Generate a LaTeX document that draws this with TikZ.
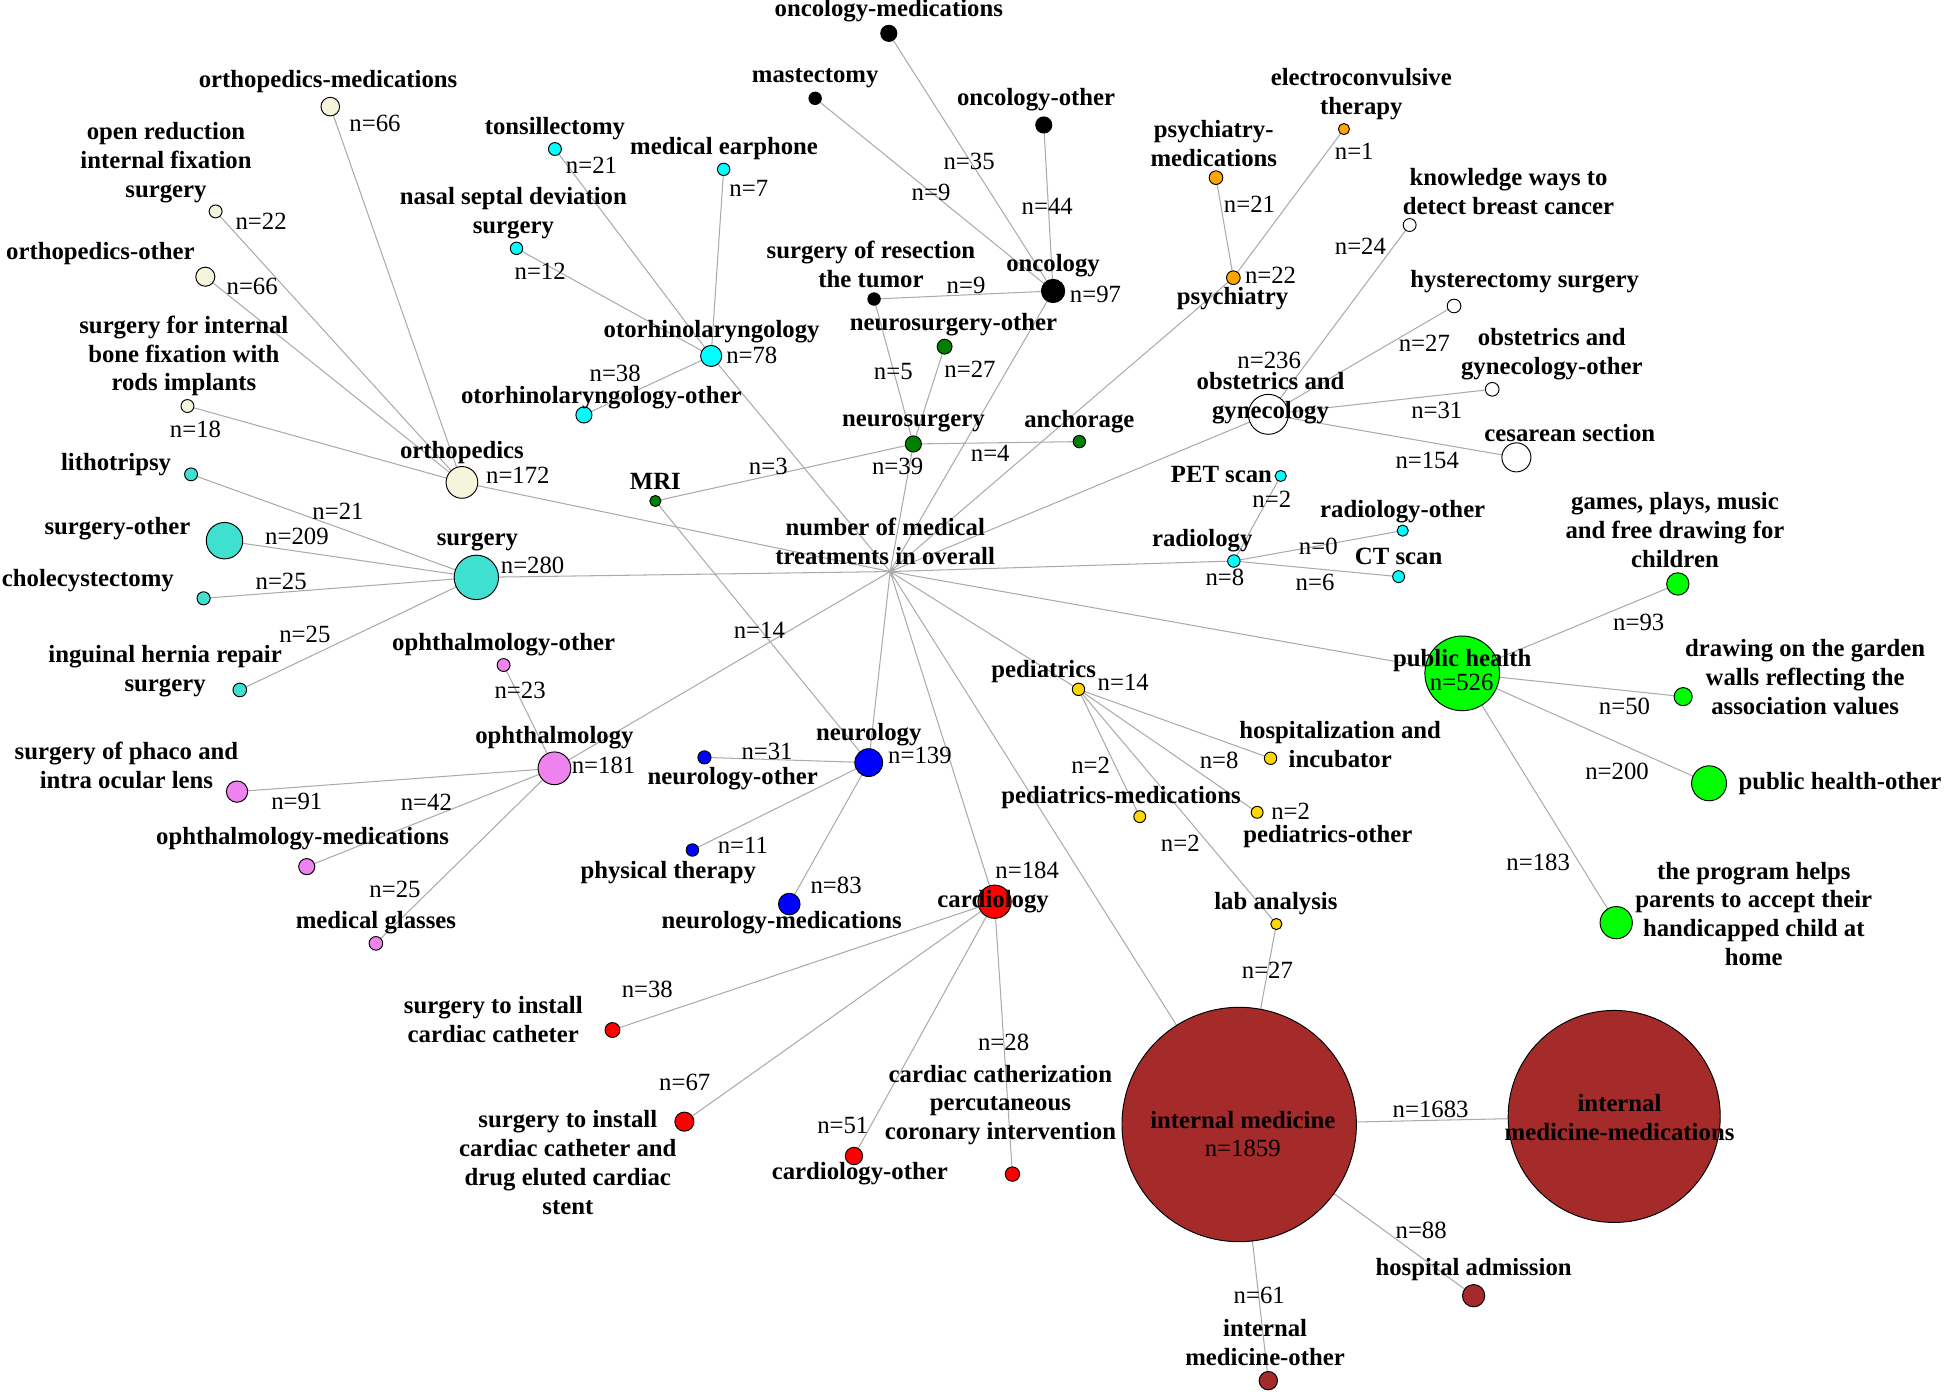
\documentclass[tikz,border=0pt]{standalone}
\usepackage{fontspec}
\setmainfont{Liberation Serif}
\usetikzlibrary{positioning}
\definecolor{beigeC}{HTML}{F5F5DC}
\definecolor{turqC}{HTML}{40E0D0}
\definecolor{cyanC}{HTML}{00FFFF}
\definecolor{greenD}{HTML}{008000}
\definecolor{orangeC}{HTML}{FFA500}
\definecolor{violetC}{HTML}{EE82EE}
\definecolor{blueC}{HTML}{0000FF}
\definecolor{redC}{HTML}{FF0000}
\definecolor{goldC}{HTML}{FFD700}
\definecolor{limeC}{HTML}{00FF00}
\definecolor{brownC}{HTML}{A52A2A}
\definecolor{edgegray}{HTML}{ABABAB}
\pgfdeclarelayer{bg}
\pgfsetlayers{bg,main}
\tikzset{
  bub/.style={circle, draw=black, line width=0.55pt,
    inner sep=0pt, outer sep=0pt, minimum size=#1*0.05cm},
  orthoN/.style={bub=#1, fill=beigeC},
  surgN/.style={bub=#1, fill=turqC},
  otoN/.style={bub=#1, fill=cyanC},
  oncN/.style={bub=#1, fill=black},
  nsurgN/.style={bub=#1, fill=greenD},
  psyN/.style={bub=#1, fill=orangeC},
  obN/.style={bub=#1, fill=white},
  radN/.style={bub=#1, fill=cyanC},
  pubN/.style={bub=#1, fill=limeC},
  pedN/.style={bub=#1, fill=goldC},
  ophN/.style={bub=#1, fill=violetC},
  neuN/.style={bub=#1, fill=blueC},
  carN/.style={bub=#1, fill=redC},
  intN/.style={bub=#1, fill=brownC},
  link/.style={draw=edgegray, line width=0.6pt},
  lbl/.style={font=\bfseries\fontsize{14.2}{16.6}\selectfont,
    align=center, inner sep=0pt},
  cnt/.style={font=\fontsize{14.2}{16.6}\selectfont, inner sep=0pt},
}

\begin{document}
\begin{tikzpicture}[x=0.025cm, y=-0.025cm]
  \useasboundingbox (0,0) rectangle (1568,1124);
  \coordinate (hub) at (718,461);
  % orthopedics
  \node[orthoN=12.8] (ortho) at (372.6,389.1) {};
  \node[orthoN=7.5] (orthoMed) at (266.4,86) {};
  \node[orthoN=5.2] (orif) at (173.9,170.5) {};
  \node[orthoN=7.7] (orthoOth) at (165.6,223.2) {};
  \node[orthoN=5.2] (rods) at (151.2,327.5) {};
  % surgery
  \node[surgN=17.9] (surg) at (384.2,465.7) {};
  \node[surgN=5.2] (litho) at (154.1,382.6) {};
  \node[surgN=14.7] (surgOth) at (181.1,436.1) {};
  \node[surgN=5.3] (chole) at (164.2,482.6) {};
  \node[surgN=5.5] (ingu) at (193.4,556.5) {};
  % otorhinolaryngology
  \node[otoN=8.5] (oto) at (573.6,287.1) {};
  \node[otoN=5.2] (tonsil) at (447.6,120.2) {};
  \node[otoN=5] (earph) at (583.7,136.6) {};
  \node[otoN=5] (nasal) at (416.6,200.3) {};
  \node[otoN=6.5] (otoOth) at (471,334.7) {};
  % oncology
  \node[oncN=9.4] (onc) at (849.4,234.7) {};
  \node[oncN=6.5] (oncMed) at (716.9,26.9) {};
  \node[oncN=5] (mast) at (657.5,79.3) {};
  \node[oncN=6.5] (oncOth) at (841.9,100.8) {};
  \node[oncN=5] (resect) at (705,241.2) {};
  % neurosurgery
  \node[nsurgN=6.5] (nsurg) at (736.7,358.1) {};
  \node[nsurgN=6] (nsurgOth) at (761.9,279.6) {};
  \node[nsurgN=5] (anch) at (870.6,356.2) {};
  \node[nsurgN=4.5] (mri) at (528.6,404.1) {};
  % psychiatry
  \node[psyN=5.5] (psy) at (994.8,224) {};
  \node[psyN=5.5] (psyMed) at (980.8,143.3) {};
  \node[psyN=4.5] (ect) at (1084,104.1) {};
  % obstetrics and gynecology
  \node[obN=16.1] (obgyn) at (1023,334.2) {};
  \node[obN=5.2] (breast) at (1137,181.5) {};
  \node[obN=5.5] (hyst) at (1172.8,246.8) {};
  \node[obN=5.5] (obOth) at (1203.6,314) {};
  \node[obN=11.7] (cesar) at (1223.1,368.9) {};
  % radiology
  \node[radN=5] (rad) at (995.2,452.5) {};
  \node[radN=4.5] (pet) at (1033,383.9) {};
  \node[radN=4.5] (radOth) at (1131.4,428) {};
  \node[radN=4.8] (ct) at (1128.1,465.1) {};
  % public health
  \node[pubN=30.1] (pub) at (1179.4,543.1) {};
  \node[pubN=9] (games) at (1353.3,471) {};
  \node[pubN=7.3] (garden) at (1357.6,561.9) {};
  \node[pubN=14.1] (pubOth) at (1378.5,631.8) {};
  \node[pubN=13] (prog) at (1303.6,744.2) {};
  % pediatrics
  \node[pedN=5] (ped) at (869.9,556) {};
  \node[pedN=5] (incub) at (1024.8,611.6) {};
  \node[pedN=4.8] (pedMed) at (919.3,658.7) {};
  \node[pedN=4.8] (pedOth) at (1014,655.2) {};
  \node[pedN=4.5] (lab) at (1029.5,745.3) {};
  % ophthalmology
  \node[ophN=13.2] (oph) at (447.2,619.7) {};
  \node[ophN=5.2] (ophOth) at (406.2,536.4) {};
  \node[ophN=8.6] (phaco) at (191.2,638.5) {};
  \node[ophN=6.5] (ophMed) at (247.4,699) {};
  \node[ophN=5.5] (glass) at (303.2,760.9) {};
  % neurology
  \node[neuN=11.2] (neu) at (700.7,615.1) {};
  \node[neuN=5.3] (neuOth) at (568.2,610.9) {};
  \node[neuN=5] (phys) at (558.5,685.6) {};
  \node[neuN=8.7] (neuMed) at (636.6,729.2) {};
  % cardiology
  \node[carN=13.4] (car) at (802.2,727.3) {};
  \node[carN=6] (cath) at (494,830.8) {};
  \node[carN=7.7] (stent) at (552,904.7) {};
  \node[carN=7] (carOth) at (688.8,932.4) {};
  \node[carN=5.8] (pci) at (816.6,947) {};
  % internal medicine
  \node[intN=94.5] (intm) at (999.5,907) {};
  \node[intN=85.5] (intMed) at (1302,900.5) {};
  \node[intN=9] (hosp) at (1188.6,1045.1) {};
  \node[intN=7.4] (intOth) at (1023,1113.6) {};

  % connectors, behind everything
  \begin{pgfonlayer}{bg}
    \draw[link] (hub) -- (ortho) (hub) -- (surg) (hub) -- (oto) (hub) -- (onc)
      (hub) -- (nsurg) (hub) -- (psy) (hub) -- (obgyn) (hub) -- (rad)
      (hub) -- (pub) (hub) -- (ped) (hub) -- (intm) (hub) -- (car)
      (hub) -- (neu) (hub) -- (oph);
    \draw[link] (ortho) -- (orthoMed) (ortho) -- (orif) (ortho) -- (orthoOth) (ortho) -- (rods);
    \draw[link] (surg) -- (litho) (surg) -- (surgOth) (surg) -- (chole) (surg) -- (ingu);
    \draw[link] (oto) -- (tonsil) (oto) -- (earph) (oto) -- (nasal) (oto) -- (otoOth);
    \draw[link] (onc) -- (oncMed) (onc) -- (mast) (onc) -- (oncOth) (onc) -- (resect);
    \draw[link] (nsurg) -- (resect) (nsurg) -- (nsurgOth) (nsurg) -- (anch) (nsurg) -- (mri)
      (mri) -- (neu);
    \draw[link] (psy) -- (psyMed) (psy) -- (ect);
    \draw[link] (obgyn) -- (breast) (obgyn) -- (hyst) (obgyn) -- (obOth) (obgyn) -- (cesar);
    \draw[link] (rad) -- (pet) (rad) -- (radOth) (rad) -- (ct);
    \draw[link] (pub) -- (games) (pub) -- (garden) (pub) -- (pubOth) (pub) -- (prog);
    \draw[link] (ped) -- (incub) (ped) -- (pedMed) (ped) -- (pedOth) (ped) -- (lab)
      (lab) -- (intm);
    \draw[link] (oph) -- (ophOth) (oph) -- (phaco) (oph) -- (ophMed) (oph) -- (glass);
    \draw[link] (neu) -- (neuOth) (neu) -- (phys) (neu) -- (neuMed);
    \draw[link] (car) -- (cath) (car) -- (stent) (car) -- (carOth) (car) -- (pci);
    \draw[link] (intm) -- (intMed) (intm) -- (hosp) (intm) -- (intOth);
  \end{pgfonlayer}

  % names
  \node[lbl] (lHub) at (714,436.7) {number of medical\\treatments in overall};
  \node[lbl] (lOrtho) at (372.6,364.8) {orthopedics};
  \node[lbl] (lOrthoMed) at (264.6,65.9) {orthopedics-medications};
  \node[lbl] (lOrif) at (133.9,130.9) {open reduction\\internal fixation\\surgery};
  \node[lbl] (lOrthoOth) at (81,204.3) {orthopedics-other};
  \node[lbl] (lRods) at (148.3,287.1) {surgery for internal\\bone fixation with\\rods implants};
  \node[lbl] (lSurg) at (385,436.9) {surgery};
  \node[lbl] (lLitho) at (93.6,375.1) {lithotripsy};
  \node[lbl] (lSurgOth) at (94.7,426.7) {surgery-other};
  \node[lbl] (lChole) at (70.9,468.6) {cholecystectomy};
  \node[lbl] (lIngu) at (133.2,541.5) {inguinal hernia repair\\surgery};
  \node[lbl] (lOto) at (574,267.5) {otorhinolaryngology};
  \node[lbl] (lTonsil) at (447.6,103.5) {tonsillectomy};
  \node[lbl] (lEarph) at (584,119.6) {medical earphone};
  \node[lbl] (lNasal) at (414.1,172) {nasal septal deviation\\surgery};
  \node[lbl] (lOtoOth) at (485,321) {otorhinolaryngology-other};
  \node[lbl] (lOnc) at (849.4,214.3) {oncology};
  \node[lbl] (lOncMed) at (716.9,8.6) {oncology-medications};
  \node[lbl] (lMast) at (657.5,63.2) {mastectomy};
  \node[lbl] (lOncOth) at (835.7,80.7) {oncology-other};
  \node[lbl] (lResect) at (702.5,213.4) {surgery of resection\\the tumor};
  \node[lbl] (lNsurg) at (736.7,340.9) {neurosurgery};
  \node[lbl] (lNsurgOth) at (769.1,262.1) {neurosurgery-other};
  \node[lbl] (lAnch) at (870.6,340.1) {anchorage};
  \node[lbl] (lMri) at (528.6,388.5) {MRI};
  \node[lbl] (lPsy) at (994.2,241.2) {psychiatry};
  \node[lbl] (lPsyMed) at (979,115.6) {psychiatry-\\medications};
  \node[lbl] (lEct) at (1098,76) {electroconvulsive\\therapy};
  \node[lbl] (lObgyn) at (1024.8,321.3) {obstetrics and\\gynecology};
  \node[lbl] (lBreast) at (1216.8,154.6) {knowledge ways to\\detect breast cancer};
  \node[lbl] (lHyst) at (1229.8,227.2) {hysterectomy surgery};
  \node[lbl] (lObOth) at (1251.7,285.4) {obstetrics and\\gynecology-other};
  \node[lbl] (lCesar) at (1266.2,349) {cesarean section};
  \node[lbl] (lRad) at (969.7,436.1) {radiology};
  \node[lbl] (lPet) at (985.2,383.1) {PET scan};
  \node[lbl] (lRadOth) at (1131.4,412.7) {radiology-other};
  \node[lbl] (lCt) at (1128.1,448.5) {CT scan};
  \node[lbl] (lPub) at (1179.4,532.9) {public health};
  \node[lbl] (lGames) at (1351,427.5) {games, plays, music\\and free drawing for\\children};
  \node[lbl] (lGarden) at (1456,545.8) {drawing on the garden\\walls reflecting the\\association values};
  \node[lbl] (lPubOth) at (1484.1,631.8) {public health-other};
  \node[lbl] (lProg) at (1414.6,737.2) {the program helps\\parents to accept their\\handicapped child at\\home};
  \node[lbl] (lPed) at (841.8,541.7) {pediatrics};
  \node[lbl] (lIncub) at (1081,600.2) {hospitalization and\\incubator};
  \node[lbl] (lPedMed) at (904.2,643.4) {pediatrics-medications};
  \node[lbl] (lPedOth) at (1071,674.9) {pediatrics-other};
  \node[lbl] (lLab) at (1029.1,729.2) {lab analysis};
  \node[lbl] (lOph) at (447.2,594.7) {ophthalmology};
  \node[lbl] (lOphOth) at (406.2,519.7) {ophthalmology-other};
  \node[lbl] (lPhaco) at (102,617.7) {surgery of phaco and\\intra ocular lens};
  \node[lbl] (lOphMed) at (244.1,676.2) {ophthalmology-medications};
  \node[lbl] (lGlass) at (303.2,744.2) {medical glasses};
  \node[lbl] (lNeu) at (700.7,592.8) {neurology};
  \node[lbl] (lNeuOth) at (591,627.8) {neurology-other};
  \node[lbl] (lPhys) at (539,703.9) {physical therapy};
  \node[lbl] (lNeuMed) at (630.5,744.2) {neurology-medications};
  \node[lbl] (lCar) at (801,727.3) {cardiology};
  \node[lbl] (lCath) at (397.9,822.7) {surgery to install\\cardiac catheter};
  \node[lbl] (lStent) at (458,937.7) {surgery to install\\cardiac catheter and\\drug eluted cardiac\\stent};
  \node[lbl] (lCarOth) at (693.5,947) {cardiology-other};
  \node[lbl] (lPci) at (806.9,891.3) {cardiac catherization\\percutaneous\\coronary intervention};
  \node[lbl] (lIntm) at (1002.4,903.4) {internal medicine};
  \node[lbl] (lIntMed) at (1306.3,901) {internal\\medicine-medications};
  \node[lbl] (lHosp) at (1188.6,1024.3) {hospital admission};
  \node[lbl] (lIntOth) at (1020.4,1083.1) {internal\\medicine-other};

  % counts
  \node[cnt] (nOrtho) at (417.7,383.1) {n=172};
  \node[cnt] (nOrthoMed) at (302.5,99.5) {n=66};
  \node[cnt] (nOrif) at (210.6,178.8) {n=22};
  \node[cnt] (nOrthoOth) at (203.4,230.7) {n=66};
  \node[cnt] (nRods) at (157.7,346) {n=18};
  \node[cnt] (nSurg) at (429.6,455.7) {n=280};
  \node[cnt] (nLitho) at (272.6,412.7) {n=21};
  \node[cnt] (nSurgOth) at (239.5,432.3) {n=209};
  \node[cnt] (nChole) at (226.8,469.2) {n=25};
  \node[cnt] (nIngu) at (245.9,511.6) {n=25};
  \node[cnt] (nOto) at (606.4,286.6) {n=78};
  \node[cnt] (nTonsil) at (477.1,133.1) {n=21};
  \node[cnt] (nEarph) at (604,151.9) {n=7};
  \node[cnt] (nNasal) at (435.7,219.1) {n=12};
  \node[cnt] (nOtoOth) at (496.2,301.5) {n=38};
  \node[cnt] (nOnc) at (883.6,237.4) {n=97};
  \node[cnt] (nOncMed) at (781.7,129.9) {n=35};
  \node[cnt] (nMast) at (751,155.4) {n=9};
  \node[cnt] (nOncOth) at (844.7,166.7) {n=44};
  \node[cnt] (nResect) at (779.2,230.4) {n=9};
  \node[cnt] (nResectB) at (720.5,299.8) {n=5};
  \node[cnt] (nNsurg) at (724,376.4) {n=39};
  \node[cnt] (nNsurgOth) at (782.4,297.9) {n=27};
  \node[cnt] (nAnch) at (798.7,365.6) {n=4};
  \node[cnt] (nMri) at (619.7,376.4) {n=3};
  \node[cnt] (nMriNeu) at (612.5,508.1) {n=14};
  \node[cnt] (nPsy) at (1024.8,222.1) {n=22};
  \node[cnt] (nPsyMed) at (1007.8,164.5) {n=21};
  \node[cnt] (nEct) at (1092.3,121.8) {n=1};
  \node[cnt] (nObgyn) at (1023.7,290.4) {n=236};
  \node[cnt] (nBreast) at (1097.3,199) {n=24};
  \node[cnt] (nHyst) at (1148.9,276.9) {n=27};
  \node[cnt] (nObOth) at (1158.9,331.2) {n=31};
  \node[cnt] (nCesar) at (1151.2,371) {n=154};
  \node[cnt] (nRad) at (988,465.7) {n=8};
  \node[cnt] (nPet) at (1025.8,402.7) {n=2};
  \node[cnt] (nRadOth) at (1063.3,440.9) {n=0};
  \node[cnt] (nCt) at (1060.7,470) {n=6};
  \node[cnt] (nPub) at (1179,550.4) {n=526};
  \node[cnt] (nGames) at (1321.8,502.2) {n=93};
  \node[cnt] (nGarden) at (1310.3,569.4) {n=50};
  \node[cnt] (nPubOth) at (1304.3,622.4) {n=200};
  \node[cnt] (nProg) at (1240.7,695.5) {n=183};
  \node[cnt] (nPed) at (906,550.4) {n=14};
  \node[cnt] (nIncub) at (983.4,613) {n=8};
  \node[cnt] (nPedMed) at (879.7,617) {n=2};
  \node[cnt] (nPedOth) at (1041,654.7) {n=2};
  \node[cnt] (nLab) at (952,680.2) {n=2};
  \node[cnt] (nLabInt) at (1022.3,782.4) {n=27};
  \node[cnt] (nOph) at (486.8,617) {n=181};
  \node[cnt] (nOphOth) at (419.5,556.5) {n=23};
  \node[cnt] (nPhaco) at (239.4,646.6) {n=91};
  \node[cnt] (nOphMed) at (343.9,647.4) {n=42};
  \node[cnt] (nGlass) at (318.6,717.3) {n=25};
  \node[cnt] (nNeu) at (742,609) {n=139};
  \node[cnt] (nNeuOth) at (618.7,606.3) {n=31};
  \node[cnt] (nPhys) at (599.2,682.1) {n=11};
  \node[cnt] (nNeuMed) at (674.4,713.8) {n=83};
  \node[cnt] (nCar) at (828.5,702.3) {n=184};
  \node[cnt] (nCath) at (522.1,798) {n=38};
  \node[cnt] (nStent) at (552.3,873.3) {n=67};
  \node[cnt] (nCarOth) at (679.8,908) {n=51};
  \node[cnt] (nPci) at (809.5,841) {n=28};
  \node[cnt] (nIntm) at (1002.4,926.2) {n=1859};
  \node[cnt] (nIntMed) at (1153.9,894.8) {n=1683};
  \node[cnt] (nHosp) at (1146.3,992.1) {n=88};
  \node[cnt] (nIntOth) at (1015.7,1045.1) {n=61};
\end{tikzpicture}
\end{document}
